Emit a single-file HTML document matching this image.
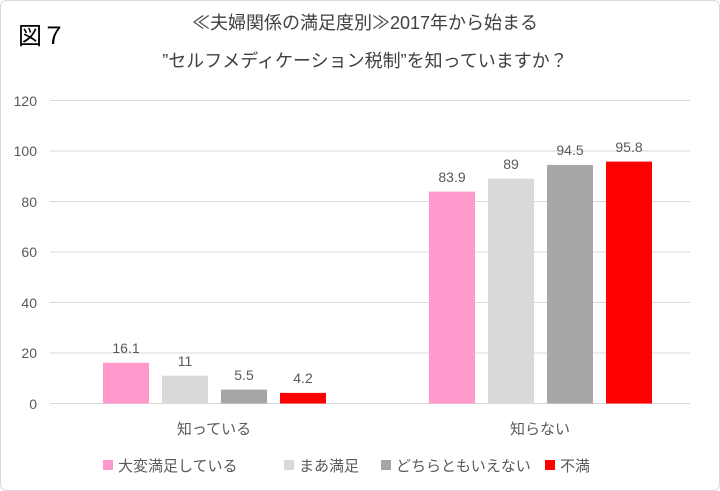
<!DOCTYPE html>
<html><head><meta charset="utf-8"><style>
html,body{margin:0;padding:0;background:#fff}
svg{display:block}
text{font-family:"Liberation Sans","Noto Sans CJK JP",sans-serif;fill:#595959}
</style></head><body>
<svg width="720" height="491" viewBox="0 0 720 491" xmlns="http://www.w3.org/2000/svg">
<rect x="0.5" y="0.5" width="719" height="490" rx="6" fill="#fff" stroke="#d9d9d9"/>
<text x="18" y="44" font-size="24" style="fill:#000">図７</text>
<text x="365" y="29" font-size="18" text-anchor="middle" style="fill:#404040">≪夫婦関係の満足度別≫2017年から始まる</text>
<text x="365" y="67" font-size="18" text-anchor="middle" style="fill:#404040">”セルフメディケーション税制”を知っていますか？</text>
<g stroke="#d9d9d9" stroke-width="1">
<line x1="50" y1="100.5" x2="690" y2="100.5"/>
<line x1="50" y1="151" x2="690" y2="151"/>
<line x1="50" y1="201.5" x2="690" y2="201.5"/>
<line x1="50" y1="252" x2="690" y2="252"/>
<line x1="50" y1="302.5" x2="690" y2="302.5"/>
<line x1="50" y1="353" x2="690" y2="353"/>
<line x1="50" y1="403.5" x2="690" y2="403.5"/>
</g>
<g font-size="14" text-anchor="end">
<text x="37" y="106">120</text><text x="37" y="156">100</text><text x="37" y="207">80</text>
<text x="37" y="257">60</text><text x="37" y="308">40</text><text x="37" y="358">20</text><text x="37" y="409">0</text>
</g>
<rect x="103" y="362.8" width="46" height="40.7" fill="#ff99cc"/>
<rect x="162" y="375.7" width="46" height="27.8" fill="#d9d9d9"/>
<rect x="221" y="389.6" width="46" height="13.9" fill="#a6a6a6"/>
<rect x="280" y="392.9" width="46" height="10.6" fill="#ff0000"/>
<rect x="429" y="191.6" width="46" height="211.9" fill="#ff99cc"/>
<rect x="488" y="178.7" width="46" height="224.8" fill="#d9d9d9"/>
<rect x="547" y="164.9" width="46" height="238.6" fill="#a6a6a6"/>
<rect x="606" y="161.6" width="46" height="241.9" fill="#ff0000"/>
<g font-size="14" text-anchor="middle">
<text x="126" y="353">16.1</text><text x="185" y="366">11</text><text x="244" y="380">5.5</text><text x="303" y="383">4.2</text>
<text x="452" y="182">83.9</text><text x="511" y="169">89</text><text x="570" y="155">94.5</text><text x="629" y="152">95.8</text>
</g>
<text x="214" y="434" font-size="15" text-anchor="middle">知っている</text>
<text x="540" y="434" font-size="15" text-anchor="middle">知らない</text>
<g font-size="15">
<rect x="103" y="460" width="10" height="10" fill="#ff99cc"/><text x="118" y="471">大変満足している</text>
<rect x="284" y="460" width="10" height="10" fill="#d9d9d9"/><text x="299" y="471">まあ満足</text>
<rect x="381" y="460" width="10" height="10" fill="#a6a6a6"/><text x="396" y="471">どちらともいえない</text>
<rect x="545" y="460" width="10" height="10" fill="#ff0000"/><text x="560" y="471">不満</text>
</g>
</svg>
</body></html>
